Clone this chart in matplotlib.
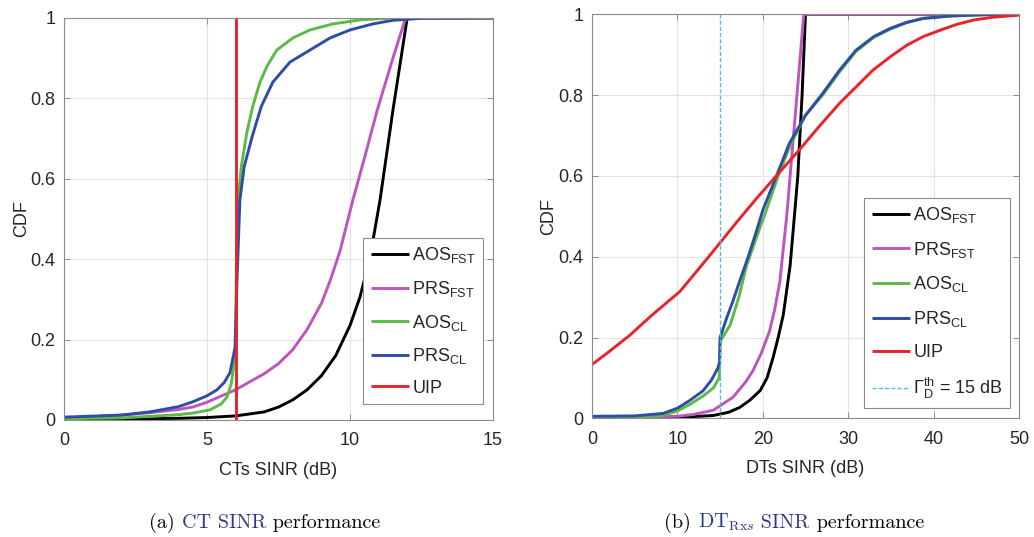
import matplotlib
matplotlib.use('Agg')
import matplotlib.pyplot as plt

plt.rcParams['font.family'] = ['Liberation Sans', 'DejaVu Sans']
plt.rcParams['mathtext.fontset'] = 'custom'
plt.rcParams['mathtext.rm'] = 'Liberation Sans'
plt.rcParams['mathtext.it'] = 'Liberation Sans:italic'
plt.rcParams['mathtext.bf'] = 'Liberation Sans:bold'

# (a) CT SINR curves
ct_aos_fst_x = [0, 2, 4, 5, 6, 7, 7.5, 8, 8.5, 9, 9.5, 10, 10.35, 10.7, 11.05, 11.5, 12.0, 15]
ct_aos_fst_y = [0.001, 0.002, 0.004, 0.006, 0.01, 0.02, 0.032, 0.05, 0.075, 0.11, 0.16, 0.235, 0.306, 0.405, 0.547, 0.77, 1.0, 1.0]

ct_prs_fst_x = [0, 1, 2, 3, 4, 4.5, 5, 6, 7, 7.5, 8, 8.5, 9, 9.3, 9.65, 10.1, 10.5, 10.95, 11.5, 11.9, 12.0, 15]
ct_prs_fst_y = [0.005, 0.008, 0.012, 0.018, 0.026, 0.032, 0.044, 0.075, 0.115, 0.14, 0.175, 0.225, 0.29, 0.345, 0.42, 0.547, 0.65, 0.77, 0.9, 0.99, 1.0, 1.0]

ct_aos_cl_x = [0, 2, 3, 4, 4.5, 5.1, 5.5, 5.7, 5.85, 5.98, 6.0, 6.03, 6.1, 6.2, 6.39, 6.6, 6.85, 7.1, 7.44, 8.0, 8.6, 9.4, 10.35, 11.5, 15]
ct_aos_cl_y = [0.003, 0.005, 0.009, 0.013, 0.017, 0.025, 0.04, 0.057, 0.09, 0.157, 0.2, 0.4, 0.56, 0.63, 0.714, 0.78, 0.84, 0.88, 0.92, 0.95, 0.97, 0.985, 0.995, 1.0, 1.0]

ct_prs_cl_x = [0, 2, 3, 4, 4.5, 5, 5.35, 5.6, 5.8, 5.98, 6.05, 6.15, 6.3, 6.6, 6.9, 7.3, 7.9, 8.6, 9.3, 10.0, 10.8, 11.5, 12.5, 15]
ct_prs_cl_y = [0.007, 0.012, 0.02, 0.033, 0.045, 0.06, 0.075, 0.093, 0.117, 0.18, 0.35, 0.547, 0.63, 0.71, 0.78, 0.84, 0.89, 0.92, 0.95, 0.97, 0.985, 0.994, 0.999, 1.0]

ct_uip_x = [6, 6]
ct_uip_y = [0, 1]

# (b) DT SINR curves
dt_aos_fst_x = [0, 10, 14.2, 16, 17.3, 18.5, 19.7, 20.5, 21.2, 21.8, 22.4, 23.2, 23.7, 24.1, 24.6, 25.0, 50]
dt_aos_fst_y = [0, 0.002, 0.007, 0.015, 0.027, 0.045, 0.069, 0.1, 0.15, 0.2, 0.256, 0.378, 0.5, 0.6, 0.8, 1.0, 1.0]

dt_prs_fst_x = [0, 10, 12, 14.2, 16.5, 18, 18.85, 19.8, 20.8, 21.4, 22.0, 22.8, 23.2, 24.0, 24.8, 50]
dt_prs_fst_y = [0.002, 0.005, 0.01, 0.02, 0.052, 0.09, 0.118, 0.16, 0.216, 0.27, 0.339, 0.5, 0.6, 0.8, 1.0, 1.0]

dt_aos_cl_x = [0, 5, 8.3, 10, 11.5, 13, 14.2, 14.9, 15.0, 16.2, 17.2, 18.1, 19.3, 20.5, 21.8, 23.3, 25, 27.0, 29, 30.9, 33, 34.9, 36.8, 38.8, 42, 46, 50]
dt_aos_cl_y = [0.002, 0.003, 0.007, 0.018, 0.035, 0.055, 0.075, 0.1, 0.19, 0.232, 0.3, 0.378, 0.45, 0.52, 0.6, 0.68, 0.75, 0.8, 0.858, 0.908, 0.943, 0.963, 0.979, 0.99, 0.996, 0.999, 1.0]

dt_prs_cl_x = [0, 5, 8.3, 10, 11.5, 13, 14, 14.75, 14.95, 15.0, 15.8, 16.5, 17.3, 18.3, 19.3, 20.0, 21.6, 23.1, 25, 27.0, 29, 30.9, 33, 34.9, 36.8, 38.8, 42, 46, 50]
dt_prs_cl_y = [0.005, 0.006, 0.012, 0.025, 0.045, 0.068, 0.095, 0.125, 0.14, 0.2, 0.25, 0.29, 0.34, 0.4, 0.466, 0.515, 0.6, 0.68, 0.75, 0.804, 0.862, 0.911, 0.945, 0.965, 0.98, 0.99, 0.996, 0.999, 1.0]

dt_uip_x = [0, 2, 4.45, 7, 10.3, 12.5, 14.75, 17, 19.3, 21.7, 24.1, 26.5, 29.0, 31, 32.9, 35, 36.9, 38.8, 40.8, 42.7, 44.7, 47, 50]
dt_uip_y = [0.133, 0.165, 0.206, 0.255, 0.314, 0.37, 0.428, 0.487, 0.545, 0.603, 0.66, 0.72, 0.78, 0.822, 0.862, 0.896, 0.924, 0.945, 0.961, 0.975, 0.986, 0.993, 0.998]

threshold_db = 15

labels = [r'AOS$_{\mathrm{FST}}$', r'PRS$_{\mathrm{FST}}$', r'AOS$_{\mathrm{CL}}$',
          r'PRS$_{\mathrm{CL}}$', 'UIP']
colors = ['#000000', '#BE55BE', '#5CBB45', '#2F4CA6', '#E8232A']

text_color = '#262626'
edge_color = '#8c8c8c'

fig = plt.figure(figsize=(10.34, 5.37), dpi=100)
ax1 = fig.add_axes([0.0619, 0.218, 0.4149, 0.7487])
ax2 = fig.add_axes([0.5725, 0.221, 0.4130, 0.7523])


def style_axes(ax, xmax, xstep):
    ax.set_xlim(0, xmax)
    ax.set_ylim(0, 1)
    ax.set_xticks(range(0, xmax + 1, xstep))
    ax.set_yticks([0, 0.2, 0.4, 0.6, 0.8, 1])
    ax.set_yticklabels(['0', '0.2', '0.4', '0.6', '0.8', '1'])
    ax.grid(True, color='#e3e3e3', linewidth=0.8)
    ax.set_axisbelow(True)
    ax.tick_params(direction='in', top=True, right=True, length=4, width=0.7,
                   colors=edge_color, labelcolor=text_color, labelsize=13)
    ax.tick_params(axis='x', pad=9)
    ax.tick_params(axis='y', pad=6)
    for s in ax.spines.values():
        s.set_color(edge_color)
        s.set_linewidth(0.8)


series_ct = [(ct_aos_fst_x, ct_aos_fst_y), (ct_prs_fst_x, ct_prs_fst_y),
             (ct_aos_cl_x, ct_aos_cl_y), (ct_prs_cl_x, ct_prs_cl_y), (ct_uip_x, ct_uip_y)]
for (x, y), lab, c in zip(series_ct, labels, colors):
    ax1.plot(x, y, color=c, linewidth=2.1, label=lab, solid_capstyle='butt')
style_axes(ax1, 15, 5)
ax1.set_ylabel('CDF', fontsize=13, color=text_color, labelpad=0)
ax1.set_xlabel('CTs SINR (dB)', fontsize=13, color=text_color, labelpad=9)

series_dt = [(dt_aos_fst_x, dt_aos_fst_y), (dt_prs_fst_x, dt_prs_fst_y),
             (dt_aos_cl_x, dt_aos_cl_y), (dt_prs_cl_x, dt_prs_cl_y), (dt_uip_x, dt_uip_y)]
for (x, y), lab, c in zip(series_dt, labels, colors):
    ax2.plot(x, y, color=c, linewidth=2.1, label=lab, solid_capstyle='butt')
ax2.plot([threshold_db, threshold_db], [0, 1], color='#4DBEEE', linewidth=1.0,
         linestyle=(0, (3, 1.5)), label=r'$\Gamma_{\mathrm{D}}^{\mathrm{th}}$ = 15 dB')
style_axes(ax2, 50, 10)
ax2.set_ylabel('CDF', fontsize=13, color=text_color, labelpad=1)
ax2.set_xlabel('DTs SINR (dB)', fontsize=13, color=text_color, labelpad=9)

for ax, anchor, spacing in [(ax1, (0.977, 0.04), 0.75), (ax2, (0.979, 0.025), 0.82)]:
    leg = ax.legend(loc='lower right', bbox_to_anchor=anchor, borderaxespad=0,
                    fontsize=13, frameon=True, fancybox=False, framealpha=1,
                    handlelength=2.1, handletextpad=0.2, labelspacing=spacing,
                    borderpad=0.4)
    leg.get_frame().set_edgecolor(edge_color)
    leg.get_frame().set_linewidth(0.8)
    for t in leg.get_texts():
        t.set_color(text_color)

# captions: serif text with the linked words in blue
link_blue = '#2B3A8A'
cap_size = 14.5


def caption(x, y, parts):
    fig.canvas.draw()
    renderer = fig.canvas.get_renderer()
    texts = []
    cur = x
    for s, c in parts:
        t = fig.text(cur, y, s, color=c, fontsize=cap_size, family='cmr10',
                     va='baseline', ha='left', math_fontfamily='cm')
        bb = t.get_window_extent(renderer)
        cur = fig.transFigure.inverted().transform((bb.x1, 0))[0]
        texts.append(t)
    # center the whole caption on x
    width = cur - x
    for t in texts:
        px, py = t.get_position()
        t.set_position((px - width / 2, py))


caption(265 / 1034, 1 - 528 / 537,
        [('(a)', 'black'), (' ', 'black'), ('CT SINR', link_blue), (' performance', 'black')])
caption(794 / 1034, 1 - 528 / 537,
        [('(b)', 'black'), (' ', 'black'), (r'DT$_{\mathrm{Rx}s}$', link_blue),
         (' SINR', link_blue), (' performance', 'black')])

fig.savefig('out.png', dpi=100)
